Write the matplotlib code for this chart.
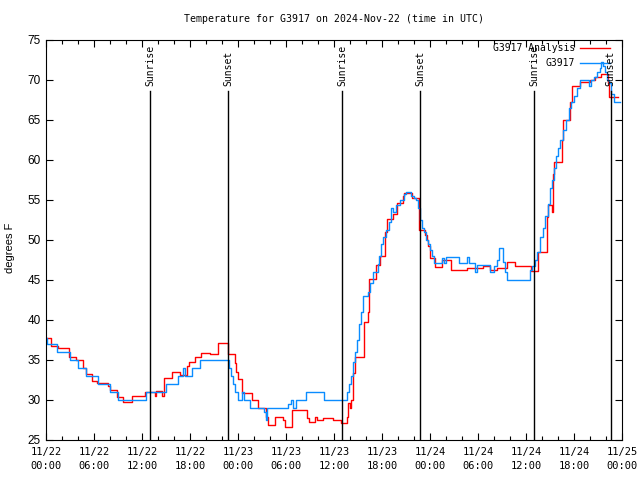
import matplotlib
matplotlib.use("Agg")
import matplotlib.pyplot as plt
from matplotlib.ticker import MultipleLocator

# hours after 2024-11-22 00:00 UTC, temperature in F
obs_hours = [0.0, 0.1, 1.4, 3.0, 4.0, 5.0, 6.5, 8.0, 9.0, 12.5, 15.0, 16.5, 17.1, 17.4,
             18.25, 19.25, 22.9, 23.1, 23.4, 23.6, 24.0, 24.5, 24.75, 25.5, 27.25, 27.5,
             27.6, 30.3, 30.6, 30.9, 31.25, 32.5, 34.75, 37.6, 37.9, 38.1, 38.4, 38.6, 38.9,
             39.1, 39.4, 39.6, 40.25, 40.5, 40.9, 41.5, 41.6, 41.9, 42.1, 42.5, 42.9, 43.1,
             43.4, 43.75, 44.25, 44.75, 45.0, 45.6, 46.0, 46.25, 46.5, 46.75, 47.0, 47.25,
             47.5, 47.75, 48.0, 48.25, 48.5, 49.5, 49.75, 50.0, 51.6, 52.6, 52.9, 53.6, 53.9,
             55.5, 56.0, 56.4, 56.6, 57.1, 57.4, 57.6, 60.5, 60.75, 61.1, 61.4, 61.75, 62.1,
             62.4, 62.75, 63.0, 63.25, 63.5, 63.75, 64.0, 64.25, 64.6, 65.0, 65.4, 65.6, 66.0,
             66.4, 66.75, 67.9, 68.1, 68.5, 68.9, 69.25, 69.4, 69.6, 69.9, 70.1, 70.4, 70.6,
             71.0, 71.75]
obs_temp = [37.75, 37.0, 36.0, 35.0, 34.0, 33.0, 32.0, 31.0, 30.0, 31.0, 32.0, 33.0, 34.0, 33.0,
            34.0, 35.0, 34.0, 33.0, 32.0, 31.0, 30.0, 31.0, 30.0, 29.0, 28.5, 27.5,
            29.0, 29.5, 30.0, 29.0, 30.0, 31.0, 30.0, 31.0, 32.0, 33.0, 34.8, 36.0, 37.5,
            39.5, 41.0, 43.0, 43.5, 44.6, 46.0, 47.0, 48.0, 49.5, 50.4, 51.3, 52.3, 54.0,
            53.5, 54.4, 55.0, 55.8, 56.0, 55.5, 55.2, 55.0, 54.0, 52.5, 51.5, 51.0,
            50.0, 49.5, 48.75, 48.0, 47.1, 47.7, 47.1, 47.9, 47.1, 47.9, 47.1, 46.0, 46.9,
            46.0, 46.7, 47.5, 49.0, 47.3, 46.0, 45.0, 46.25, 46.8, 47.5, 48.5, 50.4, 51.5,
            53.0, 54.5, 56.5, 57.5, 59.0, 60.5, 61.5, 62.5, 63.75, 65.0, 66.5, 67.3, 68.0,
            69.0, 70.0, 69.2, 70.0, 70.4, 71.0, 71.5, 72.2, 71.8, 71.0, 70.0, 69.6, 68.3,
            67.3, 67.2]

ana_hours = [0.0, 0.6, 1.5, 2.9, 3.8, 4.6, 5.0, 5.7, 6.4, 7.75, 8.0, 8.9, 9.6, 10.7, 12.4,
             13.6, 13.75, 14.5, 14.75, 15.8, 16.75, 17.6, 17.9, 18.6, 19.4, 20.5, 21.5,
             22.75, 23.6, 23.8, 24.0, 24.5, 25.7, 26.5, 27.5, 27.75, 28.6, 29.6, 29.9, 30.75,
             32.6, 32.9, 33.6, 33.9, 34.6, 35.9, 36.9, 37.6, 37.75, 37.95, 38.1, 38.4, 38.6,
             39.8, 40.25, 40.4, 41.25, 41.75, 42.4, 42.6, 43.4, 43.9, 44.6, 44.75, 45.75,
             46.6, 47.4, 47.6, 47.8, 48.0, 48.6, 49.5, 50.6, 52.6, 54.6, 55.5, 56.4, 57.6,
             58.6, 60.6, 61.5, 62.6, 62.7, 63.25, 63.4, 63.5, 64.5, 64.6, 65.5, 65.8, 66.75,
             67.9, 68.0, 68.6, 69.4, 70.25, 70.4, 71.5]
ana_temp = [37.75, 36.75, 36.5, 35.4, 35.0, 34.0, 33.3, 32.4, 32.1, 31.7, 31.2, 30.4, 29.7, 30.5, 31.0,
            30.5, 31.1, 30.5, 32.7, 33.5, 33.1, 34.25, 34.7, 35.4, 35.9, 35.8, 37.1,
            35.8, 34.6, 33.5, 32.6, 30.9, 30.0, 29.0, 27.9, 26.9, 27.9, 27.5, 26.6, 28.75,
            27.7, 27.3, 27.9, 27.5, 27.7, 27.5, 27.1, 27.9, 29.6, 29.0, 30.0, 33.4, 35.4,
            39.8, 41.0, 45.1, 46.9, 48.0, 51.0, 52.6, 53.3, 54.6, 55.5, 55.9, 55.2,
            51.25, 50.6, 50.0, 49.2, 47.7, 46.6, 47.5, 46.3, 46.5, 46.75, 46.25, 46.5, 47.2,
            46.75, 46.1, 48.5, 52.9, 54.4, 53.5, 58.3, 59.7, 62.5, 65.0, 67.3, 69.2, 69.7,
            69.8, 70.0, 70.4, 70.8, 69.6, 67.9, 67.9]

sun_hours = [13.0, 22.8, 37.0, 46.8, 61.0, 70.6]
sun_names = ["Sunrise", "Sunset", "Sunrise", "Sunset", "Sunrise", "Sunset"]

tick_hours = list(range(0, 73, 6))
tick_labels = ["11/22\n00:00", "11/22\n06:00", "11/22\n12:00", "11/22\n18:00",
               "11/23\n00:00", "11/23\n06:00", "11/23\n12:00", "11/23\n18:00",
               "11/24\n00:00", "11/24\n06:00", "11/24\n12:00", "11/24\n18:00",
               "11/25\n00:00"]

mono = "DejaVu Sans Mono"
sans = "Liberation Sans"
red = "#ff0000"
blue = "#0a8cff"

fig = plt.figure(figsize=(6.4, 4.8), dpi=100)
ax = fig.add_axes([46 / 640, 40 / 480, 576 / 640, 400 / 480])

ax.plot(ana_hours, ana_temp, color=red, lw=1.0, drawstyle="steps-post")
ax.plot(obs_hours, obs_temp, color=blue, lw=1.0, drawstyle="steps-post")

for h, name in zip(sun_hours, sun_names):
    ax.axvline(h, ymax=0.8725, color="black", lw=1.0)
    ax.text(h, 69.3, name, rotation=90, ha="center", va="bottom",
            family=mono, fontsize=7)

# legend, gnuplot style (text right aligned before the sample line)
ax.text(0.918, 0.98, "G3917 Analysis", transform=ax.transAxes, ha="right",
        va="center", family=mono, fontsize=7)
ax.plot([0.927, 0.979], [0.98, 0.98], color=red, lw=1.0, transform=ax.transAxes)
ax.text(0.918, 0.9425, "G3917", transform=ax.transAxes, ha="right",
        va="center", family=mono, fontsize=7)
ax.plot([0.927, 0.979], [0.9425, 0.9425], color=blue, lw=1.0, transform=ax.transAxes)

ax.set_xlim(0, 72)
ax.set_ylim(25, 75)
ax.set_xticks(tick_hours)
ax.set_xticklabels(tick_labels, family=mono, fontsize=7.5, linespacing=1.5)
ax.xaxis.set_minor_locator(MultipleLocator(2))
ax.set_yticks(range(25, 76, 5))
for lab in ax.get_yticklabels():
    lab.set_family(sans)
    lab.set_fontsize(8.5)

ax.tick_params(which="both", direction="in", top=True, right=True, width=0.8)
ax.tick_params(which="major", length=5, pad=4)
ax.tick_params(which="minor", length=3)
ax.tick_params(axis="x", which="major", pad=5)
for sp in ax.spines.values():
    sp.set_linewidth(0.8)

fig.text(334 / 640, 1 - 19 / 480, "Temperature for G3917 on 2024-Nov-22 (time in UTC)",
         ha="center", va="center", family=mono, fontsize=7.1)
fig.text(10 / 640, 1 - 248 / 480, "degrees F", rotation=90, ha="center", va="center",
         family=sans, fontsize=8)

fig.savefig("out.png", dpi=100)
